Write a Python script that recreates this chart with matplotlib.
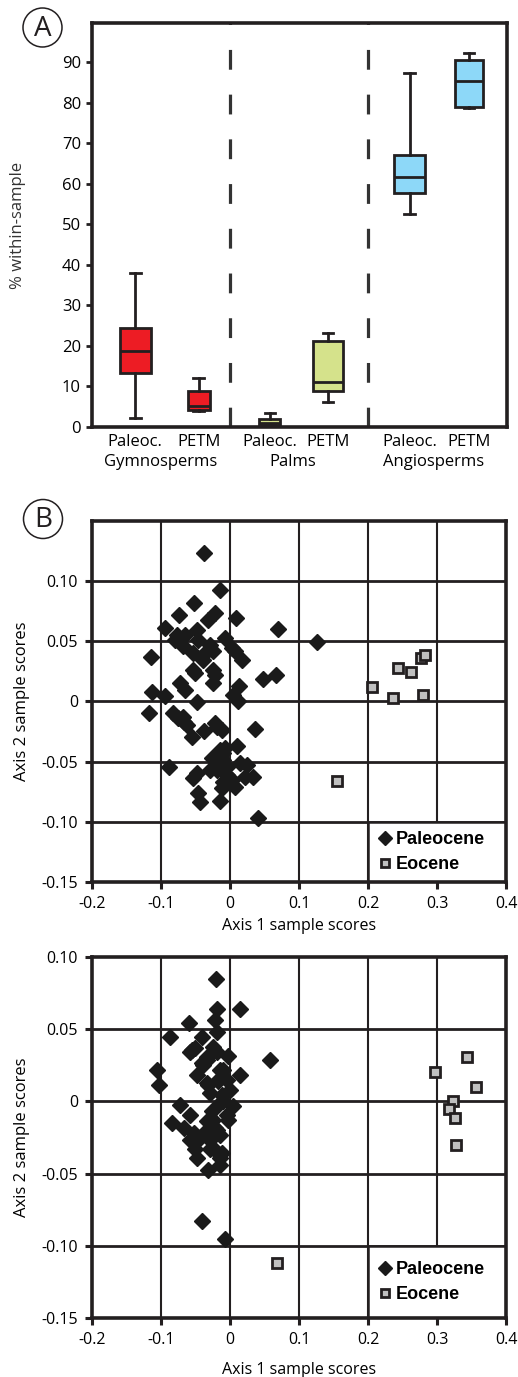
import matplotlib
matplotlib.use("Agg")
import matplotlib.pyplot as plt
from matplotlib.patches import Circle, Rectangle

plt.rcParams["font.family"] = ["Open Sans", "DejaVu Sans"]

W, H = 518, 1377
INK = "#231f20"

# ---- Panel A: box summaries (% within-sample) ----
BOX_LABELS = ["Paleoc.", "PETM", "Paleoc.", "PETM", "Paleoc.", "PETM"]
GROUPS = ["Gymnosperms", "Palms", "Angiosperms"]
WHIS_LO = [2.2, 3.9, 0.4, 6.1, 52.6, 78.7]
Q1 = [13.4, 4.1, 0.6, 8.8, 57.8, 78.8]
MED = [18.8, 5.1, 1.0, 11.0, 61.7, 85.2]
Q3 = [24.3, 8.8, 1.9, 21.3, 67.0, 90.6]
WHIS_HI = [38.0, 12.2, 3.5, 23.1, 87.3, 92.1]
BOX_COLORS = ["#ED1C24", "#ED1C24", "#D5E28B", "#D5E28B", "#8DD8F8", "#8DD8F8"]

# ---- Panel B: ordination sample scores ----
B_PAL_X = [-0.0376, -0.0145, -0.0516, -0.0737, -0.0217, -0.0313, 0.0082, -0.0940,
           0.0689, 0.1260, -0.0770, -0.0650, -0.0795, -0.0675, -0.0480, -0.0458,
           -0.0072, 0.0024, 0.0072, 0.0169, -0.0289, -0.0241, -0.0530, -0.0386,
           -0.0361, -0.1142, -0.0530, -0.0506, -0.0241, -0.0217, 0.0472, 0.0660,
           -0.0250, -0.0723, -0.0650, -0.1133, -0.0940, -0.0480, 0.0135, 0.0048,
           0.0120, -0.1180, -0.0820, -0.0747, -0.0675, -0.0627, -0.0554, -0.0371,
           -0.0217, -0.0120, 0.0361, 0.0096, -0.0145, -0.0072, -0.0265, -0.0096,
           -0.0048, 0.0145, 0.0241, -0.0289, -0.0048, 0.0024, 0.0217, 0.0337,
           -0.0096, 0.0072, -0.0120, -0.0877, -0.0480, -0.0530, -0.0458, -0.0434,
           -0.0145, 0.0400, -0.0190, -0.0096, -0.0190, -0.0670]
B_PAL_Y = [0.1236, 0.0925, 0.0819, 0.0719, 0.0736, 0.0680, 0.0694, 0.0611,
           0.0603, 0.0494, 0.0556, 0.0556, 0.0514, 0.0458, 0.0597, 0.0514,
           0.0528, 0.0444, 0.0417, 0.0347, 0.0472, 0.0417, 0.0403, 0.0347,
           0.0403, 0.0369, 0.0264, 0.0236, 0.0264, 0.0222, 0.0186, 0.0222,
           0.0153, 0.0153, 0.0097, 0.0083, 0.0042, -0.0008, 0.0131, 0.0056,
           0.0000, -0.0092, -0.0097, -0.0139, -0.0125, -0.0194, -0.0292, -0.0244,
           -0.0181, -0.0236, -0.0231, -0.0369, -0.0403, -0.0389, -0.0472, -0.0486,
           -0.0542, -0.0514, -0.0528, -0.0569, -0.0611, -0.0653, -0.0625, -0.0625,
           -0.0667, -0.0708, -0.0722, -0.0542, -0.0597, -0.0639, -0.0764, -0.0833,
           -0.0825, -0.0972, -0.0570, -0.0430, -0.0208, -0.0167]
B_EOC_X = [0.2063, 0.2362, 0.2435, 0.2618, 0.2763, 0.2821, 0.2797, 0.1557]
B_EOC_Y = [0.0117, 0.0033, 0.0278, 0.0244, 0.0361, 0.0389, 0.0056, -0.0661]

# ---- Panel C: ordination sample scores ----
C_PAL_X = [-0.0201, -0.0192, 0.0144, -0.0216, -0.0600, -0.0192, -0.0863, -0.0408,
           -0.0504, -0.0240, -0.0336, -0.0024, 0.0576, -0.0576, -0.0192, -0.1055,
           -0.0408, -0.0480, -0.0144, 0.0144, -0.1031, -0.0336, -0.0168, 0.0000,
           -0.0288, -0.0120, -0.0144, -0.0729, 0.0048, -0.0576, -0.0264, -0.0048,
           -0.0839, -0.0672, -0.0336, -0.0216, -0.0024, -0.0528, -0.0432, -0.0576,
           -0.0288, -0.0144, -0.0504, -0.0288, -0.0120, -0.0482, -0.0313, -0.0145,
           -0.0145, -0.0241, -0.0410, -0.0072, -0.0337, -0.0386, -0.0096, -0.0169,
           -0.0048, -0.0313, -0.0096, -0.0241, -0.0337, -0.0193, -0.0554]
C_PAL_Y = [0.0851, 0.0637, 0.0637, 0.0563, 0.0545, 0.0483, 0.0448, 0.0444,
           0.0368, 0.0375, 0.0310, 0.0315, 0.0285, 0.0345, 0.0345, 0.0219,
           0.0265, 0.0184, 0.0219, 0.0184, 0.0115, 0.0127, 0.0138, 0.0081,
           0.0058, 0.0046, -0.0011, -0.0023, -0.0034, -0.0092, -0.0069, -0.0092,
           -0.0149, -0.0184, -0.0138, -0.0184, -0.0126, -0.0218, -0.0253, -0.0264,
           -0.0264, -0.0230, -0.0333, -0.0333, -0.0356, -0.0392, -0.0472, -0.0392,
           -0.0438, -0.0323, -0.0830, -0.0956, 0.0288, 0.0253, 0.0219, 0.0150,
           0.0150, 0.0115, 0.0000, -0.0127, -0.0196, -0.0196, 0.0357]
C_EOC_X = [0.3429, 0.2976, 0.3571, 0.3238, 0.3176, 0.3262, 0.3271, 0.0675]
C_EOC_Y = [0.0306, 0.0202, 0.0103, 0.0005, -0.0051, -0.0115, -0.0299, -0.1118]

X_TICKS = [-0.2, -0.1, 0.0, 0.1, 0.2, 0.3, 0.4]
X_TICK_LABELS = ["-0.2", "-0.1", "0", "0.1", "0.2", "0.3", "0.4"]
B_Y_TICKS = [-0.15, -0.10, -0.05, 0.0, 0.05, 0.10]
C_Y_TICKS = [-0.15, -0.10, -0.05, 0.0, 0.05, 0.10]
Y_TICK_LABELS = ["-0.15", "-0.10", "-0.05", "0", "0.05", "0.10"]


def px_rect(left, top, right, bottom):
    # figure fraction rectangle from pixel edges (origin top-left)
    return [left / W, 1 - bottom / H, (right - left) / W, (bottom - top) / H]


def ordination(ax, pal_x, pal_y, eoc_x, eoc_y, ylim, yticks):
    ax.set_xlim(-0.2, 0.4)
    ax.set_ylim(*ylim)
    ax.set_xticks(X_TICKS)
    ax.set_xticklabels(X_TICK_LABELS)
    ax.set_yticks(yticks)
    ax.set_yticklabels(Y_TICK_LABELS)
    ax.tick_params(direction="out", length=5, width=2.2, color=INK,
                   labelsize=11.5, pad=5)
    for sp in ax.spines.values():
        sp.set_linewidth(2.6)
        sp.set_color(INK)
    # grid drawn by hand so the legend cell can cover it
    for x in X_TICKS[1:-1]:
        ax.axvline(x, color=INK, lw=1.5, zorder=0.5)
    for y in yticks:
        if ylim[0] < y < ylim[1]:
            ax.axhline(y, color=INK, lw=2.0, zorder=0.5)
    ax.add_patch(Rectangle((0.2, ylim[0]), 0.2, 0.05, facecolor="white",
                           edgecolor=INK, lw=1.8, zorder=0.8))
    ax.plot(pal_x, pal_y, "D", ms=8.3, color="#1a1a1a", ls="none",
            label="Paleocene", zorder=3)
    ax.plot(eoc_x, eoc_y, "s", ms=7.5, mfc="#c0c0c0", mec=INK, mew=2,
            ls="none", label="Eocene", zorder=4)
    ax.legend(loc="center left", bbox_to_anchor=(0.215, ylim[0], 0.185, 0.05),
              bbox_transform=ax.transData, frameon=False, handlelength=0.7,
              handletextpad=0.25, labelspacing=0.45, borderaxespad=0,
              borderpad=0, markerscale=0.8,
              prop=dict(family="Liberation Sans", weight="bold", size=13))
    ax.set_xlabel("Axis 1 sample scores", fontsize=11.5)
    ax.set_ylabel("Axis 2 sample scores", fontsize=12)


fig = plt.figure(figsize=(W / 100, H / 100), dpi=100)

# ---- Panel A ----
axA = fig.add_axes(px_rect(92, 23, 507, 427))
positions = [0.73, 1.80, 3.0, 3.98, 5.36, 6.36]
widths = [0.52, 0.37, 0.35, 0.5, 0.52, 0.47]
stats = [dict(whislo=lo, q1=a, med=m, q3=b, whishi=hi)
         for lo, a, m, b, hi in zip(WHIS_LO, Q1, MED, Q3, WHIS_HI)]
bp = axA.bxp(stats, positions=positions, widths=widths, capwidths=0.18,
             patch_artist=True, showfliers=False,
             boxprops=dict(lw=2, edgecolor=INK),
             medianprops=dict(color=INK, lw=2),
             whiskerprops=dict(color=INK, lw=2),
             capprops=dict(color=INK, lw=2))
for patch, c in zip(bp["boxes"], BOX_COLORS):
    patch.set_facecolor(c)
for key in ("boxes", "medians", "whiskers", "caps"):
    for art in bp[key]:
        art.set_clip_on(False)
for x in [2.33, 4.65]:
    axA.axvline(x, color="#333333", lw=2.3, linestyle=(0, (6.2, 7.8)), zorder=0.5)
axA.set_xlim(0, 7)
axA.set_ylim(0, 99.6)
axA.set_yticks(range(0, 100, 10))
axA.set_xticks(positions)
axA.set_xticklabels(BOX_LABELS, fontsize=12)
axA.tick_params(axis="x", length=0, pad=5)
axA.tick_params(axis="y", direction="out", length=4, width=2, color=INK,
                labelsize=12, pad=4)
for sp in axA.spines.values():
    sp.set_linewidth(2.6)
    sp.set_color(INK)
for i, g in enumerate(GROUPS):
    mid = (positions[2 * i] + positions[2 * i + 1]) / 2 - 0.1
    axA.text(mid, -0.087, g, transform=axA.get_xaxis_transform(),
             ha="center", va="center", fontsize=12)
axA.set_ylabel("% within-sample", fontsize=12, color="#333333")
axA.yaxis.set_label_coords(-0.16, 0.5)

# ---- Panels B and C ----
axB = fig.add_axes(px_rect(92, 521, 506, 882))
ordination(axB, B_PAL_X, B_PAL_Y, B_EOC_X, B_EOC_Y, (-0.15, 0.15), B_Y_TICKS)
axB.xaxis.set_label_coords(0.5, -0.1)
axB.yaxis.set_label_coords(-0.15, 0.5)

axC = fig.add_axes(px_rect(92, 957, 506, 1318))
ordination(axC, C_PAL_X, C_PAL_Y, C_EOC_X, C_EOC_Y, (-0.15, 0.10), C_Y_TICKS)
axC.xaxis.set_label_coords(0.5, -0.122)
axC.yaxis.set_label_coords(-0.15, 0.5)

# ---- circled panel letters ----
ov = fig.add_axes([0, 0, 1, 1], zorder=10)
ov.set_xlim(0, W)
ov.set_ylim(H, 0)
ov.axis("off")
for (cx, cy), letter in [((42.5, 27.5), "A"), ((43, 519), "B")]:
    ov.add_patch(Circle((cx, cy), 19.5, fill=False, lw=1.1, ec=INK))
    ov.text(cx, cy + 1, letter, ha="center", va="center", fontsize=20, color=INK)

fig.savefig("out.png", dpi=100)
